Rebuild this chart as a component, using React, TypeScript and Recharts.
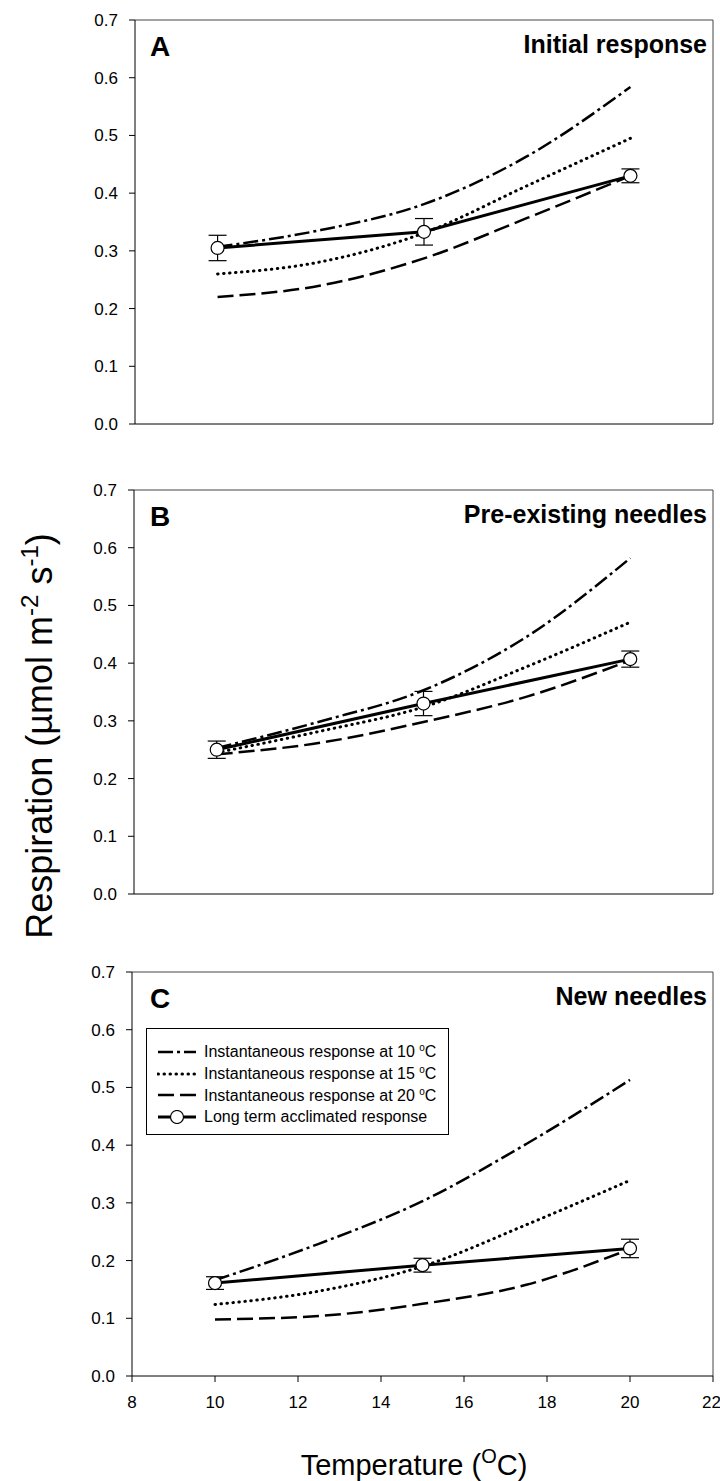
import React from 'react';
import { ComposedChart, Line, XAxis, YAxis, ErrorBar, ReferenceLine } from 'recharts';

const FONT = '"Liberation Sans", Arial, Helvetica, sans-serif';

const curveTemps = [10, 12.5, 15, 17.5, 20];
const measuredTemps = [10, 15, 20];
const xTicks = [8, 10, 12, 14, 16, 18, 20, 22];
const yTicks = [0, 0.1, 0.2, 0.3, 0.4, 0.5, 0.6, 0.7];

// A - initial response
const initialAt10 = [0.307, 0.336, 0.381, 0.464, 0.584];
const initialAt15 = [0.26, 0.281, 0.331, 0.413, 0.495];
const initialAt20 = [0.22, 0.24, 0.287, 0.357, 0.43];
const initialMeasured = [0.305, 0.333, 0.43];
const initialErr = [0.022, 0.023, 0.012];

// B - pre-existing needles
const preAt10 = [0.253, 0.299, 0.353, 0.446, 0.582];
const preAt15 = [0.245, 0.282, 0.324, 0.394, 0.471];
const preAt20 = [0.242, 0.262, 0.298, 0.342, 0.405];
const preMeasured = [0.25, 0.33, 0.407];
const preErr = [0.015, 0.021, 0.014];

// C - new needles
const newAt10 = [0.166, 0.229, 0.303, 0.402, 0.513];
const newAt15 = [0.124, 0.147, 0.19, 0.262, 0.339];
const newAt20 = [0.098, 0.104, 0.125, 0.158, 0.22];
const newMeasured = [0.161, 0.192, 0.221];
const newErr = [0.011, 0.012, 0.016];

const panelLetters = ['A', 'B', 'C'];
const panelTitles = ['Initial response', 'Pre-existing needles', 'New needles'];
const legendLabels = [
  'Instantaneous response at 10',
  'Instantaneous response at 15',
  'Instantaneous response at 20',
  'Long term acclimated response',
];

const toCurve = (vals: number[]) => curveTemps.map((t, i) => ({ t, v: vals[i] }));
const toMeasured = (vals: number[], errs: number[]) =>
  measuredTemps.map((t, i) => ({ t, v: vals[i], err: errs[i] }));

const panels = [
  {
    axisX: 135,
    plotTop: 20,
    plotHeight: 404,
    c10: toCurve(initialAt10),
    c15: toCurve(initialAt15),
    c20: toCurve(initialAt20),
    measured: toMeasured(initialMeasured, initialErr),
  },
  {
    axisX: 134,
    plotTop: 490,
    plotHeight: 404,
    c10: toCurve(preAt10),
    c15: toCurve(preAt15),
    c20: toCurve(preAt20),
    measured: toMeasured(preMeasured, preErr),
  },
  {
    axisX: 132,
    plotTop: 972,
    plotHeight: 404,
    c10: toCurve(newAt10),
    c15: toCurve(newAt15),
    c20: toCurve(newAt20),
    measured: toMeasured(newMeasured, newErr),
  },
];

const lineStyles = {
  c10: { strokeDasharray: '15 4 3 4', strokeWidth: 2.5, strokeLinecap: 'butt' as const },
  c15: { strokeDasharray: '0.5 5.5', strokeWidth: 3, strokeLinecap: 'round' as const },
  c20: { strokeDasharray: '16 6', strokeWidth: 2.5, strokeLinecap: 'butt' as const },
};

const tickStyle = { fontSize: 17, fill: '#000', fontFamily: FONT };

function Panel({ p, showTickLabels }: { p: (typeof panels)[number]; showTickLabels: boolean }) {
  const xAxisHeight = 30;
  const height = 20 + p.plotHeight + xAxisHeight + 16;
  return (
    <div style={{ position: 'absolute', left: 0, top: p.plotTop - 20 }}>
      <ComposedChart
        width={720}
        height={height}
        margin={{ top: 20, right: 7, bottom: 16, left: p.axisX - 60 }}
      >
        <XAxis
          type="number"
          dataKey="t"
          domain={[8, 22]}
          ticks={xTicks}
          allowDataOverflow
          height={xAxisHeight}
          stroke="#000"
          tickSize={6}
          tickMargin={14}
          fontSize={17}
          tick={showTickLabels ? tickStyle : false}
        />
        <YAxis
          type="number"
          domain={[0, 0.7]}
          ticks={yTicks}
          allowDataOverflow
          width={60}
          stroke="#000"
          tickSize={6}
          tickMargin={11}
          fontSize={17}
          tick={tickStyle}
          tickFormatter={(v: number) => v.toFixed(1)}
        />
        <ReferenceLine y={0.7} stroke="#444" />
        <ReferenceLine x={22} stroke="#444" />
        <Line
          data={p.c10}
          dataKey="v"
          type="monotone"
          stroke="#000"
          {...lineStyles.c10}
          dot={false}
          isAnimationActive={false}
        />
        <Line
          data={p.c15}
          dataKey="v"
          type="monotone"
          stroke="#000"
          {...lineStyles.c15}
          dot={false}
          isAnimationActive={false}
        />
        <Line
          data={p.c20}
          dataKey="v"
          type="monotone"
          stroke="#000"
          {...lineStyles.c20}
          dot={false}
          isAnimationActive={false}
        />
        <Line
          data={p.measured}
          dataKey="v"
          type="linear"
          stroke="#000"
          strokeWidth={3}
          dot={{ r: 6.5, fill: '#fff', stroke: '#000', strokeWidth: 1.2 }}
          isAnimationActive={false}
        >
          <ErrorBar dataKey="err" width={9} stroke="#000" strokeWidth={1.2} direction="y" />
        </Line>
      </ComposedChart>
    </div>
  );
}

function LegendSample({ kind }: { kind: number }) {
  const keys = ['c10', 'c15', 'c20'] as const;
  return (
    <svg width={40} height={14} style={{ display: 'block' }}>
      {kind < 3 ? (
        <line x1={1} y1={7} x2={39} y2={7} stroke="#000" {...lineStyles[keys[kind]]} />
      ) : (
        <>
          <line x1={1} y1={7} x2={39} y2={7} stroke="#000" strokeWidth={3} />
          <circle cx={20} cy={7} r={6.5} fill="#fff" stroke="#000" strokeWidth={1.2} />
        </>
      )}
    </svg>
  );
}

export default function App() {
  return (
    <div
      style={{
        position: 'absolute',
        left: 0,
        top: 0,
        width: 720,
        height: 1481,
        background: '#fff',
        fontFamily: FONT,
      }}
    >
      {panels.map((p, i) => (
        <Panel key={i} p={p} showTickLabels={i === 2} />
      ))}

      {/* legend for panel C */}
      <div
        style={{
          position: 'absolute',
          left: 146,
          top: 1028,
          width: 303,
          height: 107,
          border: '1px solid #000',
          background: '#fff',
          paddingTop: 12,
          boxSizing: 'border-box',
        }}
      >
        {legendLabels.map((label, i) => (
          <div
            key={label}
            style={{ display: 'flex', alignItems: 'center', height: 21.7, fontSize: 16, color: '#000' }}
          >
            <div style={{ marginLeft: 10, marginRight: 7 }}>
              <LegendSample kind={i} />
            </div>
            <span>
              {label}
              {i < 3 && (
                <>
                  {' '}
                  <sup style={{ fontSize: 10 }}>o</sup>C
                </>
              )}
            </span>
          </div>
        ))}
      </div>

      <svg
        width={720}
        height={1481}
        style={{ position: 'absolute', left: 0, top: 0, pointerEvents: 'none' }}
        fontFamily={FONT}
      >
        {panels.map((p, i) => (
          <g key={i}>
            <text x={150} y={p.plotTop + 36} fontSize={28} fontWeight="bold" fill="#000">
              {panelLetters[i]}
            </text>
            <text
              x={707}
              y={p.plotTop + 33}
              fontSize={25}
              fontWeight="bold"
              fill="#000"
              textAnchor="end"
            >
              {panelTitles[i]}
            </text>
          </g>
        ))}
        <text x={414} y={1475} fontSize={29} textAnchor="middle" fill="#000">
          Temperature (
          <tspan fontSize={20} dy={-12}>
            O
          </tspan>
          <tspan dy={12}>C)</tspan>
        </text>
        <text
          transform="translate(52, 736) rotate(-90)"
          fontSize={36}
          textAnchor="middle"
          fill="#000"
        >
          Respiration (µmol m
          <tspan fontSize={24} dy={-14}>
            -2
          </tspan>
          <tspan dy={14}> s</tspan>
          <tspan fontSize={24} dy={-14}>
            -1
          </tspan>
          <tspan dy={14}>)</tspan>
        </text>
      </svg>
    </div>
  );
}
